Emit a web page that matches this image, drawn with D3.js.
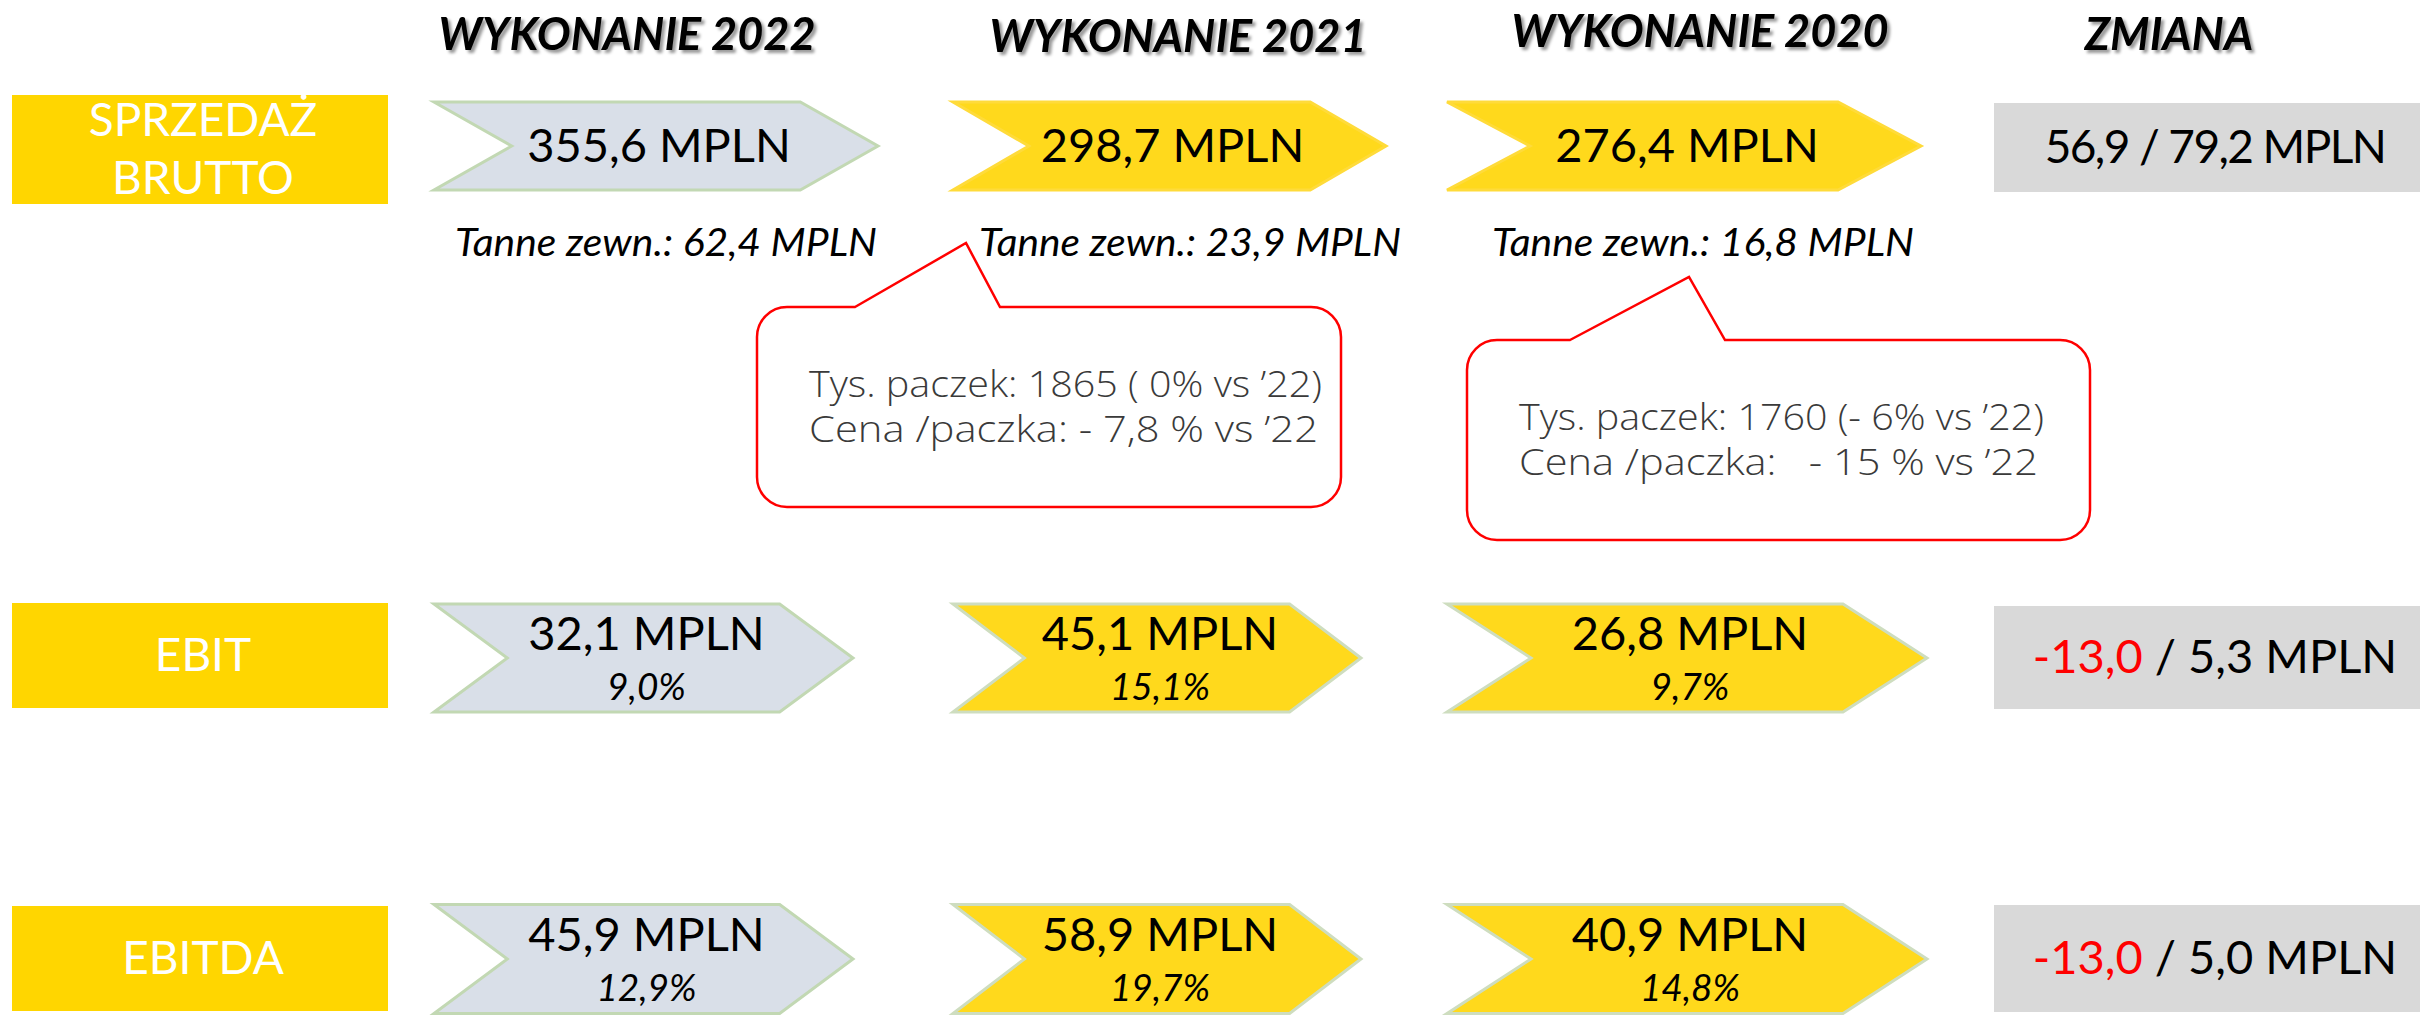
<!DOCTYPE html>
<html><head><meta charset="utf-8">
<script src="https://cdn.jsdelivr.net/npm/d3@7"></script>
<style>body{margin:0;background:#fff}</style>
</head><body><svg id="chart" width="2420" height="1016"></svg>
<script>
// ---------- DATA ----------
const metrics = ["SPRZEDAŻ BRUTTO", "EBIT", "EBITDA"];
const metricLines = [["SPRZEDAŻ", "BRUTTO"], ["EBIT"], ["EBITDA"]];
const columns = ["WYKONANIE 2022", "WYKONANIE 2021", "WYKONANIE 2020"];
const changeHeader = "ZMIANA";
const values2022 = [355.6, 32.1, 45.9];
const values2021 = [298.7, 45.1, 58.9];
const values2020 = [276.4, 26.8, 40.9];
const margin2022 = [null, 9.0, 12.9];
const margin2021 = [null, 15.1, 19.7];
const margin2020 = [null, 9.7, 14.8];
const externalSales = [62.4, 23.9, 16.8];
const changeVs2021 = [56.9, -13.0, -13.0];
const changeVs2020 = [79.2, 5.3, 5.0];
const unit = "MPLN";
const externalLabel = "Tanne zewn.:";
const callout2021 = ["Tys. paczek: 1865 ( 0% vs ’22)", "Cena /paczka: - 7,8 % vs ’22"];
const callout2020 = ["Tys. paczek: 1760 (- 6% vs ’22)", "Cena /paczka:   - 15 % vs ’22"];

const valuesByCol = [values2022, values2021, values2020];
const marginsByCol = [margin2022, margin2021, margin2020];

// ---------- FORMAT ----------
const pl = d3.formatLocale({decimal: ",", thousands: " ", grouping: [3], currency: ["", " zł"], minus: "-"});
const f1 = pl.format(".1f");

// ---------- LAYOUT ----------
const W = 2420, H = 1016;
const svg = d3.select("#chart");
const colLeft = d3.scaleOrdinal().domain(columns).range([434, 953, 1447]);
const colWidthFirst = d3.scaleOrdinal().domain(columns).range([444, 433, 474]);
const colWidthOther = d3.scaleOrdinal().domain(columns).range([419, 408, 480]);
const rowMid = d3.scaleOrdinal().domain(metrics).range([146, 658, 959]);
const rowChevronH = d3.scaleOrdinal().domain(metrics).range([88, 108, 109]);
const rowLabelH = d3.scaleOrdinal().domain(metrics).range([109, 105, 105]);
const rowLabelMid = d3.scaleOrdinal().domain(metrics).range([149.5, 655.5, 958.5]);
const rowChangeH = d3.scaleOrdinal().domain(metrics).range([89, 103, 107]);
const rowChangeMid = d3.scaleOrdinal().domain(metrics).range([147.5, 657.5, 958.5]);
const rowChangeFont = d3.scaleOrdinal().domain(metrics).range([46, 47, 47]);
const rowChangeSpacing = d3.scaleOrdinal().domain(metrics).range([-1.6, 0, 0]);
const headerX = d3.scaleOrdinal().domain([...columns, changeHeader]).range([627, 1178, 1700, 2169]);
const headerY = d3.scaleOrdinal().domain([...columns, changeHeader]).range([50, 52, 47, 50]);
const externalX = d3.scaleOrdinal().domain(columns).range([666, 1190, 1703]);
const labelX0 = 12, labelW = 376;
const changeX0 = 1994;

const FONT = "Lato, 'Open Sans', sans-serif";
const YELLOW_LABEL = "#FFD600";
const YELLOW_CHEV = "#FFD91C";
const GRAY_CHEV = "#D9DFE8";
const GRAY_BOX = "#D9D9D9";

// shadow filter for headers
const defs = svg.append("defs");
const flt = defs.append("filter").attr("id", "hshadow").attr("x", "-10%").attr("y", "-30%").attr("width", "130%").attr("height", "180%");
flt.append("feDropShadow").attr("dx", 3).attr("dy", 3).attr("stdDeviation", 1.6).attr("flood-color", "#000").attr("flood-opacity", 0.4);

// ---------- HEADERS ----------
svg.append("g").selectAll("text").data([...columns, changeHeader]).join("text")
  .attr("x", d => headerX(d)).attr("y", d => headerY(d))
  .attr("text-anchor", "middle")
  .attr("font-family", FONT).attr("font-weight", "bold").attr("font-style", "italic")
  .attr("font-size", 45).attr("fill", "#000")
  .attr("filter", "url(#hshadow)")
  .text(d => d);

// ---------- ROW LABELS ----------
const lab = svg.append("g").selectAll("g").data(metrics).join("g");
lab.append("rect")
  .attr("x", labelX0).attr("width", labelW)
  .attr("y", d => rowLabelMid(d) - rowLabelH(d) / 2).attr("height", d => rowLabelH(d))
  .attr("fill", YELLOW_LABEL);
lab.each(function(d, i) {
  const lines = metricLines[i];
  const mid = rowLabelMid(d);
  const lh = 58;
  const g = d3.select(this);
  lines.forEach((ln, k) => {
    const base = mid + 15.5 - (lines.length - 1) * lh / 2 + k * lh;
    g.append("text").attr("x", labelX0 + labelW / 2 + 3).attr("y", base)
      .attr("text-anchor", "middle").attr("font-family", FONT).attr("font-weight", 400)
      .attr("font-size", 46).attr("fill", "#fff").text(ln);
  });
});

// ---------- CHEVRONS ----------
function chevron(x, y, w, h) {
  const d = 0.175 * w;
  const p = d3.path();
  p.moveTo(x, y); p.lineTo(x + w - d, y); p.lineTo(x + w, y + h / 2);
  p.lineTo(x + w - d, y + h); p.lineTo(x, y + h); p.lineTo(x + d, y + h / 2); p.closePath();
  return p.toString();
}
const cells = [];
metrics.forEach((m, r) => columns.forEach((c, ci) => {
  cells.push({m, r, c, ci, value: valuesByCol[ci][r], margin: marginsByCol[ci][r]});
}));
const cg = svg.append("g").selectAll("g").data(cells).join("g");
cg.each(function(d) {
  const g = d3.select(this);
  const w = d.r === 0 ? colWidthFirst(d.c) : colWidthOther(d.c);
  const h = rowChevronH(d.m);
  const x = colLeft(d.c);
  const mid = rowMid(d.m);
  const y = mid - h / 2;
  g.append("path").attr("d", chevron(x, y, w, h))
    .attr("fill", d.ci === 0 ? GRAY_CHEV : YELLOW_CHEV)
    .attr("stroke", d.ci === 0 ? "#C2D8B3" : (d.r === 0 ? "#FFDB3A" : "#CEDDBF"))
    .attr("stroke-width", 3);
  const cx = x + w / 2 + 3;
  if (d.margin == null) {
    g.append("text").attr("x", cx).attr("y", mid + 16)
      .attr("text-anchor", "middle").attr("font-family", FONT).attr("font-size", 47)
      .attr("fill", "#000").text(`${f1(d.value)} ${unit}`);
  } else {
    g.append("text").attr("x", cx).attr("y", mid - 8)
      .attr("text-anchor", "middle").attr("font-family", FONT).attr("font-size", 47)
      .attr("fill", "#000").text(`${f1(d.value)} ${unit}`);
    g.append("text").attr("x", cx).attr("y", mid + 42)
      .attr("text-anchor", "middle").attr("font-family", FONT).attr("font-style", "italic")
      .attr("font-size", 37).attr("fill", "#000").text(`${f1(d.margin)}%`);
  }
});

// ---------- EXTERNAL SALES LINE ----------
svg.append("g").selectAll("text").data(columns).join("text")
  .attr("x", c => externalX(c))
  .attr("y", 256)
  .attr("text-anchor", "middle").attr("font-family", FONT).attr("font-style", "italic")
  .attr("font-size", 38).attr("fill", "#000")
  .attr("textLength", 422).attr("lengthAdjust", "spacingAndGlyphs")
  .text((c, i) => `${externalLabel} ${f1(externalSales[i])} ${unit}`);

// ---------- CHANGE COLUMN ----------
const chg = svg.append("g").selectAll("g").data(metrics).join("g");
chg.append("rect")
  .attr("x", changeX0).attr("width", W - changeX0)
  .attr("y", d => rowChangeMid(d) - rowChangeH(d) / 2).attr("height", d => rowChangeH(d))
  .attr("fill", GRAY_BOX);
chg.each(function(d, i) {
  const t = d3.select(this).append("text")
    .attr("x", 2215).attr("y", rowChangeMid(d) + 15.5)
    .attr("text-anchor", "middle").attr("font-family", FONT).attr("font-size", rowChangeFont(d))
    .attr("letter-spacing", rowChangeSpacing(d))
    .attr("fill", "#000").style("white-space", "pre");
  t.append("tspan").attr("fill", changeVs2021[i] < 0 ? "#FF0000" : "#000").text(f1(changeVs2021[i]));
  t.append("tspan").attr("fill", changeVs2020[i] < 0 ? "#FF0000" : "#000").text(` / ${f1(changeVs2020[i])} ${unit}`);
});

// ---------- CALLOUTS ----------
const callouts = [
  {col: "WYKONANIE 2021", lines: callout2021, x: 757, y: 307, w: 584, h: 200, tipX: 966, tipY: 243, baseL: 855, baseR: 1000, lens: [513, 509]},
  {col: "WYKONANIE 2020", lines: callout2020, x: 1467, y: 340, w: 623, h: 200, tipX: 1689, tipY: 277, baseL: 1570, baseR: 1725, lens: [525, 519]}
];
function calloutPath(o) {
  const r = 30, p = d3.path();
  p.moveTo(o.baseL, o.y);
  p.lineTo(o.tipX, o.tipY);
  p.lineTo(o.baseR, o.y);
  p.lineTo(o.x + o.w - r, o.y);
  p.arcTo(o.x + o.w, o.y, o.x + o.w, o.y + r, r);
  p.lineTo(o.x + o.w, o.y + o.h - r);
  p.arcTo(o.x + o.w, o.y + o.h, o.x + o.w - r, o.y + o.h, r);
  p.lineTo(o.x + r, o.y + o.h);
  p.arcTo(o.x, o.y + o.h, o.x, o.y + o.h - r, r);
  p.lineTo(o.x, o.y + r);
  p.arcTo(o.x, o.y, o.x + r, o.y, r);
  p.closePath();
  return p.toString();
}
const co = svg.append("g").selectAll("g").data(callouts).join("g");
co.append("path").attr("d", calloutPath).attr("fill", "#fff").attr("stroke", "#FF0000").attr("stroke-width", 2.5);
co.each(function(o) {
  const g = d3.select(this);
  o.lines.forEach((ln, k) => {
    g.append("text").attr("x", o.x + 52).attr("y", o.y + 90 + k * 45)
      .attr("font-family", "'Open Sans', 'DejaVu Sans', sans-serif").attr("font-weight", 300)
      .attr("font-size", 36).attr("fill", "#3a3a3a")
      .attr("textLength", o.lens[k]).attr("lengthAdjust", "spacingAndGlyphs")
      .style("white-space", "pre").text(ln);
  });
});
</script>
</body></html>
